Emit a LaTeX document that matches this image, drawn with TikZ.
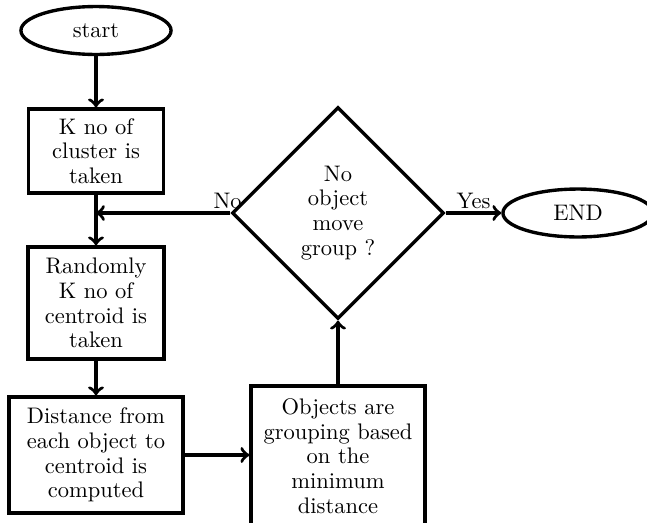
\documentclass[tikz,border=0pt]{standalone}
\usetikzlibrary{shapes.geometric}
\begin{document}
\begin{tikzpicture}[x=0.4444pt,y=-0.4444pt,
  every node/.style={font=\fontsize{10}{11}\selectfont},
  proc/.style={draw,line width=1.5pt,rectangle,align=center,inner sep=2pt},
  term/.style={draw,line width=1.5pt,ellipse,minimum width=66.7pt,minimum height=21.3pt,inner sep=1pt},
  dec/.style={draw,line width=1.5pt,diamond,aspect=1,minimum width=94.2pt,minimum height=94.2pt,align=center,inner sep=0pt},
  conn/.style={->,line width=1.5pt}]
\useasboundingbox (0,0) rectangle (647,522);
\clip (0,0) rectangle (647,522);
\node[term] (start) at (96,30.5) {start};
\node[proc,minimum width=60pt,minimum height=37.3pt] (k) at (96,151) {K no of\\cluster is\\taken};
\node[proc,minimum width=60.4pt,minimum height=49.8pt] (rand) at (96,303) {Randomly\\K no of\\centroid is\\taken};
\node[proc,minimum width=77.3pt,minimum height=51.6pt] (dist) at (96,455) {Distance from\\each object to\\centroid is\\computed};
\node[proc,minimum width=77.3pt,minimum height=62.2pt] (obj) at (338,456) {Objects are\\grouping based\\on the\\minimum\\distance};
\node[dec] (dia) at (338,213) {No\\object\\move\\group ?};
\node[term] (endn) at (578,213) {END};
\coordinate (m) at (96,213);
\draw[conn] (start) -- (k);
\draw[conn] (k) -- (rand);
\draw[conn] (rand) -- (dist);
\draw[conn] (dist.east) -- (dist.east -| obj.west);
\draw[conn] (obj) -- (dia);
\draw[conn] (dia.west) -- node[above,pos=0.02,inner sep=1pt] {No} (m);
\draw[conn] (dia.east) -- node[above,inner sep=1pt] {Yes} (endn);
\end{tikzpicture}
\end{document}
